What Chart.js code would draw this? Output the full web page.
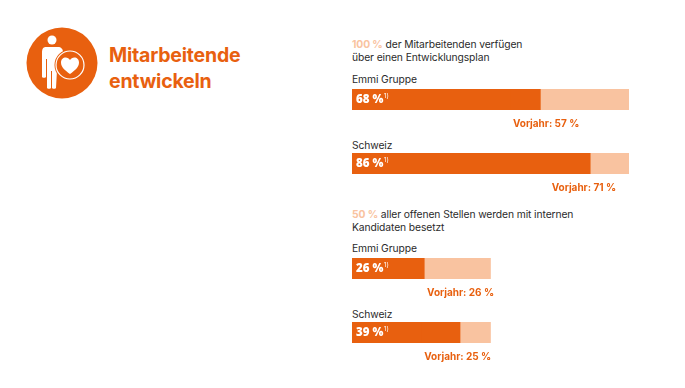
<!DOCTYPE html>
<html lang="de">
<head>
<meta charset="utf-8">
<title>Mitarbeitende entwickeln</title>
<script src="https://cdn.jsdelivr.net/npm/chart.js@4"></script>
<style>
html,body{margin:0;padding:0;background:#fff}
body{width:685px;height:388px;position:relative;overflow:hidden;font-family:"Inter","Lato",sans-serif;color:#2b2b2b}
.t{position:absolute;white-space:nowrap;font-size:10.3px;line-height:13px;letter-spacing:-.1px}
.t b{color:#f9c3a0;font-weight:700}
.title{position:absolute;left:109px;top:42px;font-size:19.5px;line-height:26px;font-weight:700;color:#e8600f;letter-spacing:-.2px}
.c{position:absolute;left:352px}
svg{position:absolute;left:26px;top:27px}
</style>
</head>
<body>
<svg width="72" height="72" viewBox="0 0 72 72">
  <circle cx="36" cy="36" r="35.500" fill="#e8600f"/>
  <circle cx="26" cy="13" r="4.500" fill="#fff"/>
  <path d="M20 20h12c3 0 5 2 5 5v10h-4l-2 8-1 18c0 1-4 1-4 0V44h-1v17c0 1-4 1-4 0V32h-1v18c0 1-4 1-4 0V26c0-4 1-6 4-6z" fill="#fff"/>
  <circle cx="44" cy="38" r="15.500" fill="#e8600f"/>
  <circle cx="44" cy="38" r="14" fill="none" stroke="#fff" stroke-width="1.200"/>
  <path transform="translate(0,-4)" d="M44 51c-5-3.500-9-7-9-11.500 0-3 2-5 4.700-5 1.800 0 3.300 1 4.300 2.500 1-1.500 2.500-2.500 4.300-2.500 2.700 0 4.700 2 4.700 5 0 4.500-4 8-9 11.500z" fill="#fff"/>
</svg>
<div class="title">Mitarbeitende<br>entwickeln</div>

<div class="t" style="left:352px;top:38px"><b id="goalA"></b> der Mitarbeitenden verfügen<br>über einen Entwicklungsplan</div>
<div class="t" style="left:352px;top:73px" id="l0"></div>
<canvas class="c" id="c0" width="277" height="46" style="top:89px"></canvas>
<div class="t" style="left:352px;top:139px" id="l1"></div>
<canvas class="c" id="c1" width="277" height="46" style="top:153px"></canvas>

<div class="t" style="left:352px;top:208px"><b id="goalB"></b> aller offenen Stellen werden mit internen<br>Kandidaten besetzt</div>
<div class="t" style="left:352px;top:242px" id="l2"></div>
<canvas class="c" id="c2" width="277" height="46" style="top:258px"></canvas>
<div class="t" style="left:352px;top:308px" id="l3"></div>
<canvas class="c" id="c3" width="277" height="46" style="top:322px"></canvas>

<script>
const categories = ["Emmi Gruppe", "Schweiz", "Emmi Gruppe", "Schweiz"];
const currentValues = [68, 86, 26, 39];
const previousValues = [57, 71, 26, 25];
const goalValues = [100, 100, 50, 50];
const axisMax = 100;
const note = "1)";
const previousLabel = "Vorjahr";

const ORANGE = "#e8600f", LIGHT = "#f9c3a0";
document.getElementById("goalA").textContent = goalValues[0] + " %";
document.getElementById("goalB").textContent = goalValues[2] + " %";

const labels = {
  id: "labels",
  afterDatasetsDraw(chart, args, o) {
    const { ctx, chartArea: a, scales: { x } } = chart;
    ctx.save();
    ctx.textBaseline = "middle";
    ctx.fillStyle = "#fff";
    ctx.font = '800 11.5px "Open Sans"';
    const text = o.current + " %";
    const mid = (a.top + a.bottom) / 2 + 0.5;
    ctx.fillText(text, x.getPixelForValue(0) + 4, mid);
    const w = ctx.measureText(text).width;
    ctx.font = '400 6.5px "Inter"';
    ctx.fillText(note, x.getPixelForValue(0) + 4 + w + 0.5, mid - 4);
    ctx.fillStyle = ORANGE;
    ctx.font = '700 10px "Inter"';
    ctx.fillText(previousLabel + ": " + o.previous + " %", x.getPixelForValue(o.previous) + 3, a.bottom + 14);
    ctx.restore();
  }
};

categories.forEach((cat, i) => {
  document.getElementById("l" + i).textContent = cat;
  new Chart(document.getElementById("c" + i), {
    type: "bar",
    data: {
      labels: [cat],
      datasets: [
        { label: "Vorjahr", data: [Math.min(previousValues[i], currentValues[i])], backgroundColor: ORANGE },
        { label: "Zuwachs", data: [currentValues[i] - previousValues[i]], backgroundColor: ORANGE },
        { label: "Zielwert", data: [goalValues[i] - currentValues[i]], backgroundColor: LIGHT }
      ]
    },
    options: {
      indexAxis: "y",
      responsive: false,
      animation: false,
      layout: { padding: { bottom: 25 } },
      datasets: { bar: { barPercentage: 1, categoryPercentage: 1, borderWidth: 0 } },
      scales: {
        x: { stacked: true, display: false, min: 0, max: axisMax, grid: { display: false } },
        y: { stacked: true, display: false, grid: { display: false } }
      },
      plugins: {
        legend: { display: false },
        tooltip: { enabled: false },
        labels: { current: currentValues[i], previous: previousValues[i] }
      }
    },
    plugins: [labels]
  });
});
</script>
</body>
</html>
